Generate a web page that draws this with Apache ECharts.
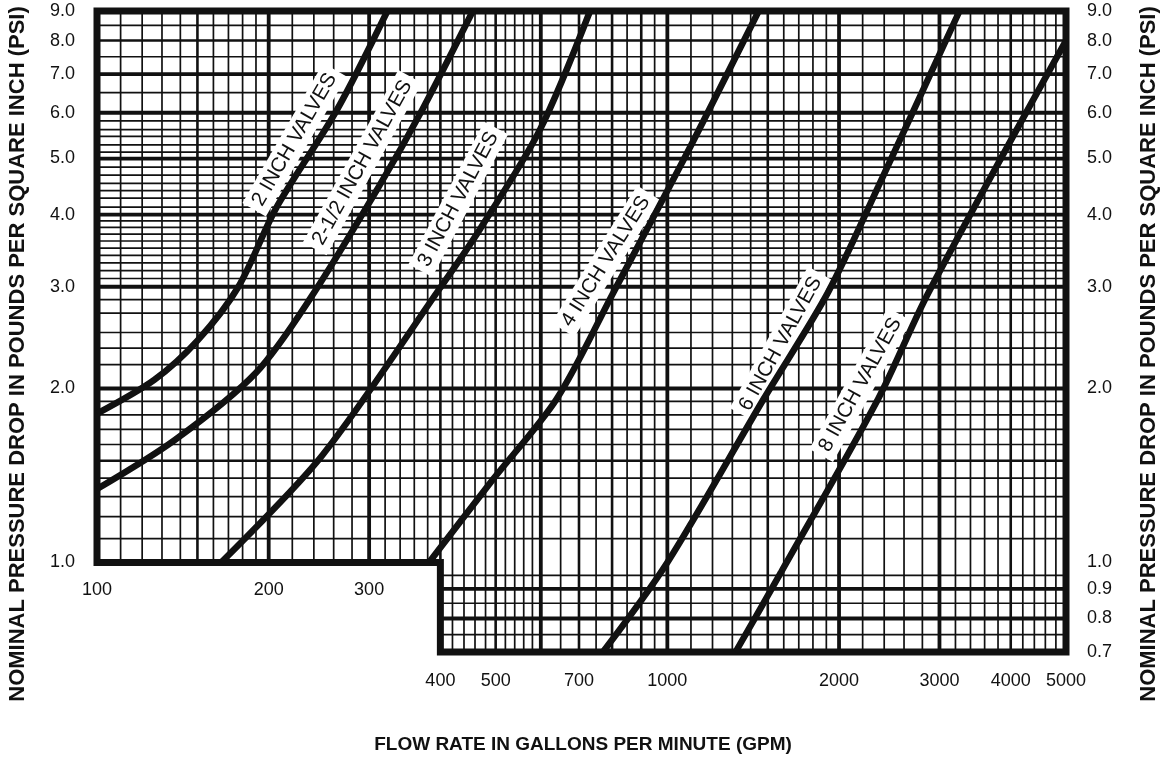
<!DOCTYPE html>
<html><head><meta charset="utf-8">
<script src="https://cdn.jsdelivr.net/npm/echarts@6/dist/echarts.min.js"></script>
<style>html,body{margin:0;padding:0;background:#fff}#c{width:1167px;height:759px}</style>
</head><body><div id="c"></div>
<script>
// ---- axis extents (L-shaped chart paper) ----
const xMin = 100, xMax = 5000, yMin = 0.7, yMax = 9.0;
const xNotch = 400, yNotch = 1.0;   // area x<400 exists only above 1.0 psi

// ---- tick labels ----
const xLabelsUpper = [100, 200, 300];
const xLabelsLower = [400, 500, 700, 1000, 2000, 3000, 4000, 5000];
const yLabelsLeft = [1.0, 2.0, 3.0, 4.0, 5.0, 6.0, 7.0, 8.0, 9.0];
const yLabelsRight = [0.7, 0.8, 0.9, 1.0, 2.0, 3.0, 4.0, 5.0, 6.0, 7.0, 8.0, 9.0];

// ---- chart-paper grid lines ----
const xGridThin = [110,120,130,140,160,170,180,190, 220,240,260,280, 320,340,360,380,
  420,440,460,480, 520,540,560,580, 650,750,850,950,
  1100,1200,1300,1400,1600,1700,1800,1900, 2200,2400,2600,2800,
  3200,3400,3600,3800, 4200,4400,4600,4800];
const xGridMedium = [150, 400, 500, 700, 800, 900, 1500, 4000];
const xGridThick = [200, 300, 600, 1000, 2000, 3000];
const yGridThin = [0.75, 0.85, 0.95, 1.1, 1.2, 1.3, 1.4, 1.6, 1.7, 1.8, 1.9,
  2.2, 2.35, 2.5, 2.7, 2.85, 3.1, 3.2, 3.3, 3.4, 3.5, 3.6, 3.7, 3.8, 3.9,
  4.12, 4.27, 4.4, 4.53, 4.68, 4.83, 5.13, 5.28, 5.46, 5.61, 5.81, 6.5, 7.5, 8.5];
const yGridMedium = [1.5, 8.0];
const yGridThick = [0.8, 0.9, 2.0, 3.0, 4.0, 5.0, 6.0, 7.0];

// ---- valve curves: [flow GPM, pressure drop PSI] ----
const valve2   = [[100,1.81],[126,2.07],[150,2.42],[177,3.0],[206,4.1],[263,6.05],[323,9.0]];
const valve2h  = [[100,1.34],[137,1.63],[190,2.13],[238,2.89],[312,4.47],[372,6.08],[456,9.0]];
const valve3   = [[165,1.0],[248,1.53],[398,2.97],[469,3.77],[598,5.61],[732,9.0]];
const valve4   = [[382,1.0],[494,1.39],[640,1.92],[804,2.93],[1084,5.12],[1446,9.0]];
const valve6   = [[771,0.7],[1000,1.0],[1476,1.92],[1912,2.93],[2343,4.47],[3253,9.0]];
const valve8   = [[1317,0.7],[1581,0.96],[2343,1.92],[2869,2.93],[5000,8.0]];
const curves = [valve2, valve2h, valve3, valve4, valve6, valve8];

// ---- curve labels ----
const curveNames = ['2 INCH VALVES','2-1/2 INCH VALVES','3 INCH VALVES','4 INCH VALVES','6 INCH VALVES','8 INCH VALVES'];
const labelAt = [[222,5.39],[292,4.92],[430,4.25],[780,3.32],[1580,2.39],[2180,2.03]];
const labelAngle = [60, 61, 62, 58, 61, 61];

// ---- titles ----
const yTitle = 'NOMINAL PRESSURE DROP IN POUNDS PER SQUARE INCH (PSI)';
const xTitle = 'FLOW RATE IN GALLONS PER MINUTE (GPM)';

const FONT = '"Liberation Sans", Arial, Helvetica, sans-serif';
const INK = '#111111';
const tierWidth = [1.7, 2.6, 3.8];

const gridData = [];
[xGridThin, xGridMedium, xGridThick].forEach((arr, t) => arr.forEach(v => gridData.push([v, yMax, t, 0])));
[yGridThin, yGridMedium, yGridThick].forEach((arr, t) => arr.forEach(v => gridData.push([xMax, v, t, 1])));

const chart = echarts.init(document.getElementById('c'), null, {renderer: 'canvas'});

const series = [];
// grid lines
series.push({
  type: 'custom', coordinateSystem: 'cartesian2d', silent: true, z: 1, clip: false,
  data: gridData,
  renderItem: function (params, api) {
    const orient = api.value(3), tier = api.value(2);
    let p1, p2;
    if (orient === 0) {
      const v = api.value(0);
      p1 = api.coord([v, v > xNotch ? yMin : yNotch]);
      p2 = api.coord([v, yMax]);
    } else {
      const v = api.value(1);
      p1 = api.coord([v >= yNotch ? xMin : xNotch, v]);
      p2 = api.coord([xMax, v]);
    }
    return {type: 'line', shape: {x1: p1[0], y1: p1[1], x2: p2[0], y2: p2[1]},
      style: {stroke: INK, lineWidth: tierWidth[tier]}};
  }
});
// frame
series.push({
  type: 'custom', coordinateSystem: 'cartesian2d', silent: true, z: 6, clip: false,
  data: [[xMax, yMax]],
  renderItem: function (params, api) {
    const pts = [[xMin, yMax],[xMax, yMax],[xMax, yMin],[xNotch, yMin],[xNotch, yNotch],[xMin, yNotch]].map(p => api.coord(p));
    return {type: 'polygon', shape: {points: pts},
      style: {fill: null, stroke: INK, lineWidth: 7, lineJoin: 'miter'}};
  }
});
// curves (own layer so label backgrounds never cover them)
curves.forEach((c) => {
  series.push({type: 'line', data: c, smooth: 0.3, symbol: 'none', z: 5, zlevel: 1, silent: true,
    lineStyle: {color: INK, width: 6.5, cap: 'butt'}});
});
// curve labels
series.push({
  type: 'scatter', symbolSize: 0, z: 3, clip: false, silent: true,
  itemStyle: {opacity: 1},
  data: labelAt.map((p, i) => ({value: p, name: curveNames[i],
    label: {rotate: labelAngle[i]}})),
  label: {show: true, position: 'inside', formatter: p => p.name, fontFamily: FONT,
    fontSize: 20.5, color: INK, backgroundColor: '#ffffff', padding: [3, 6], opacity: 1}
});
// axis tick labels
const tickLabel = {show: true, fontFamily: FONT, fontSize: 18, color: INK, opacity: 1};
function tickSeries(data, pos, dist, fmt) {
  return {type: 'scatter', symbolSize: 0, z: 7, clip: false, silent: true,
    itemStyle: {opacity: 1}, data: data,
    label: Object.assign({position: pos, distance: dist, formatter: fmt}, tickLabel)};
}
series.push(tickSeries(xLabelsUpper.map(v => [v, yNotch]), 'bottom', 19, p => String(p.value[0])));
series.push(tickSeries(xLabelsLower.map(v => [v, yMin]), 'bottom', 20, p => String(p.value[0])));
series.push(tickSeries(yLabelsLeft.map(v => [xMin, v]), 'left', 22, p => p.value[1].toFixed(1)));
series.push(tickSeries(yLabelsRight.map(v => [xMax, v]), 'right', 21, p => p.value[1].toFixed(1)));

const titleStyle = (size) => ({font: 'bold ' + size + 'px ' + FONT, fill: INK,
  align: 'center', verticalAlign: 'middle', textAlign: 'center', textVerticalAlign: 'middle'});

chart.setOption({
  animation: false,
  backgroundColor: '#fff',
  grid: {left: 97, right: 101, top: 11, bottom: 107, containLabel: false},
  xAxis: {type: 'log', logBase: 10, min: xMin, max: xMax, show: false},
  yAxis: {type: 'log', logBase: 10, min: yMin, max: yMax, show: false},
  graphic: [
    {type: 'text', x: 18, y: 354, rotation: Math.PI / 2, style: Object.assign({text: yTitle}, titleStyle(22))},
    {type: 'text', x: 1149, y: 354, rotation: Math.PI / 2, style: Object.assign({text: yTitle}, titleStyle(22))},
    {type: 'text', x: 583, y: 745, style: Object.assign({text: xTitle}, titleStyle(19))}
  ],
  series: series
});
</script></body></html>
